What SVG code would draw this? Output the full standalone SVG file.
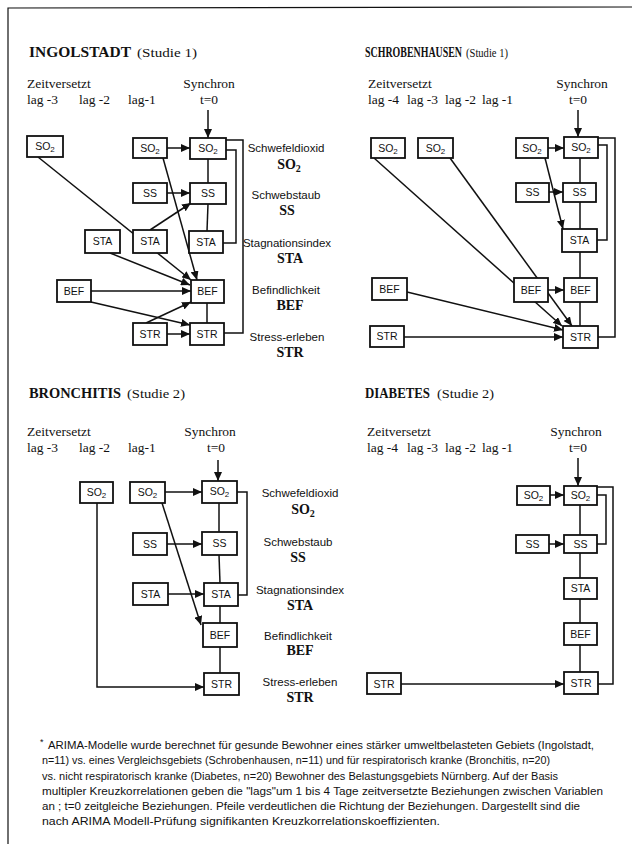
<svg xmlns="http://www.w3.org/2000/svg" width="632" height="844" viewBox="0 0 632 844">
<defs>
<marker id="ah" markerUnits="userSpaceOnUse" markerWidth="9" markerHeight="8" refX="9" refY="4" orient="auto">
<path d="M0,0 L9,4 L0,8 z" fill="#111"/>
</marker>
<style>
.bx{fill:#fff;stroke:#111;stroke-width:1.8}
.bl{font-family:"Liberation Sans",Arial,sans-serif;font-size:10.5px;text-anchor:middle;fill:#111}
.sub{font-size:8px}
.ln{stroke:#111;stroke-width:1.5;fill:none}
.ar{stroke:#111;stroke-width:1.5;fill:none;marker-end:url(#ah)}
.tt{font-family:"Liberation Serif","Times New Roman",serif;font-size:15px;font-weight:bold;fill:#111}
.st{font-family:"Liberation Serif","Times New Roman",serif;font-size:13px;fill:#111}
.hd{font-family:"Liberation Serif","Times New Roman",serif;font-size:13.5px;fill:#111}
.hc{font-family:"Liberation Serif","Times New Roman",serif;font-size:13.5px;fill:#111;text-anchor:middle}
.rl{font-family:"Liberation Sans",Arial,sans-serif;font-size:11.5px;fill:#111;text-anchor:middle}
.rb{font-family:"Liberation Serif","Times New Roman",serif;font-size:14px;font-weight:bold;fill:#111;text-anchor:middle}
.rbs{font-size:10px}
.fn{font-family:"Liberation Sans",Arial,sans-serif;font-size:10px;fill:#111}
</style>
</defs>
<rect width="632" height="844" fill="#fff"/>
<polyline class="ln" points="632,7 8,8 8,844" style="stroke-width:1.2"/>

<!-- ===== INGOLSTADT ===== -->
<g id="ingolstadt-header">
<text class="tt" x="29" y="57" textLength="102" lengthAdjust="spacingAndGlyphs">INGOLSTADT</text>
<text class="st" x="137" y="57" textLength="60" lengthAdjust="spacingAndGlyphs">(Studie 1)</text>
<text class="hd" x="27" y="88">Zeitversetzt</text>
<text class="hd" x="27" y="104">lag -3</text>
<text class="hd" x="79" y="104">lag -2</text>
<text class="hd" x="128" y="104">lag-1</text>
<text class="hc" x="209" y="88">Synchron</text>
<text class="hc" x="209" y="104">t=0</text>
</g>
<g id="ingolstadt-labels">
<text class="rl" x="286" y="152">Schwefeldioxid</text>
<text class="rb" x="289" y="169">SO<tspan class="rbs" dy="3">2</tspan></text>
<text class="rl" x="286" y="199">Schwebstaub</text>
<text class="rb" x="287" y="215">SS</text>
<text class="rl" x="287" y="247">Stagnationsindex</text>
<text class="rb" x="290" y="263">STA</text>
<text class="rl" x="286" y="294">Befindlichkeit</text>
<text class="rb" x="290" y="310">BEF</text>
<text class="rl" x="287" y="341">Stress-erleben</text>
<text class="rb" x="290" y="357">STR</text>
</g>
<g id="ingolstadt-connectors">
<line class="ar" x1="208" y1="110" x2="208" y2="138"/>
<line class="ar" x1="167" y1="148" x2="190" y2="148"/>
<line class="ar" x1="167" y1="193" x2="190" y2="193"/>
<line class="ln" x1="208" y1="159" x2="208" y2="183"/>
<line class="ln" x1="208" y1="204" x2="207" y2="231"/>
<line class="ln" x1="207" y1="303" x2="207" y2="323"/>
<polyline class="ln" points="226,150 236,150 236,243 223,243"/>
<polyline class="ln" points="226,140 243,140 243,333 224,333"/>
<line class="ar" x1="38" y1="157" x2="191" y2="280"/>
<line class="ar" x1="110" y1="253" x2="190" y2="285"/>
<line class="ar" x1="91" y1="291" x2="191" y2="291"/>
<line class="ar" x1="91" y1="302" x2="190" y2="325"/>
<line class="ar" x1="167" y1="334" x2="190" y2="334"/>
<line class="ar" x1="146" y1="323" x2="191" y2="302"/>
<line class="ar" x1="150" y1="230" x2="191" y2="203"/>
<line class="ar" x1="163" y1="158" x2="197" y2="280"/>
</g>
<g id="I_SO2_l3"><rect class="bx" x="27" y="136" width="36" height="21"/><text class="bl" x="45" y="150">SO<tspan class="sub" dy="2">2</tspan></text></g>
<g id="I_SO2_l1"><rect class="bx" x="133" y="138" width="34" height="20"/><text class="bl" x="150" y="152">SO<tspan class="sub" dy="2">2</tspan></text></g>
<g id="I_SO2_t0"><rect class="bx" x="190" y="138" width="36" height="21"/><text class="bl" x="208" y="152">SO<tspan class="sub" dy="2">2</tspan></text></g>
<g id="I_SS_l1"><rect class="bx" x="133" y="183" width="34" height="20"/><text class="bl" x="150" y="197">SS</text></g>
<g id="I_SS_t0"><rect class="bx" x="190" y="183" width="36" height="21"/><text class="bl" x="208" y="197">SS</text></g>
<g id="I_STA_l2"><rect class="bx" x="85" y="230" width="35" height="23"/><text class="bl" x="102.5" y="245">STA</text></g>
<g id="I_STA_l1"><rect class="bx" x="133" y="230" width="34" height="23"/><text class="bl" x="150" y="245">STA</text></g>
<g id="I_STA_t0"><rect class="bx" x="189" y="231" width="34" height="22"/><text class="bl" x="206" y="246">STA</text></g>
<g id="I_BEF_l3"><rect class="bx" x="57" y="280" width="34" height="22"/><text class="bl" x="74" y="295">BEF</text></g>
<g id="I_BEF_t0"><rect class="bx" x="191" y="280" width="33" height="23"/><text class="bl" x="207.5" y="295">BEF</text></g>
<g id="I_STR_l1"><rect class="bx" x="133" y="323" width="34" height="22"/><text class="bl" x="150" y="338">STR</text></g>
<g id="I_STR_t0"><rect class="bx" x="190" y="323" width="34" height="22"/><text class="bl" x="207" y="338">STR</text></g>

<!-- ===== SCHROBENHAUSEN ===== -->
<g id="schrobenhausen-header">
<text class="tt" x="365" y="57" style="font-size:14px" textLength="97" lengthAdjust="spacingAndGlyphs">SCHROBENHAUSEN</text>
<text class="st" x="466" y="57" style="font-size:12px" textLength="42" lengthAdjust="spacingAndGlyphs">(Studie 1)</text>
<text class="hd" x="368" y="88">Zeitversetzt</text>
<text class="hd" x="368" y="104">lag -4</text>
<text class="hd" x="407" y="104">lag -3</text>
<text class="hd" x="445" y="104">lag -2</text>
<text class="hd" x="482" y="104">lag -1</text>
<text class="hc" x="582" y="88">Synchron</text>
<text class="hc" x="578" y="104">t=0</text>
</g>
<g id="schrobenhausen-connectors">
<line class="ar" x1="578" y1="110" x2="578" y2="137"/>
<line class="ar" x1="548" y1="148" x2="564" y2="148"/>
<line class="ar" x1="549" y1="192" x2="563" y2="192"/>
<line class="ln" x1="580" y1="158" x2="580" y2="183"/>
<line class="ln" x1="580" y1="202" x2="580" y2="229"/>
<line class="ln" x1="580" y1="252" x2="580" y2="278"/>
<line class="ln" x1="580" y1="302" x2="580" y2="326"/>
<polyline class="ln" points="598,145 607,145 607,240 597,240"/>
<polyline class="ln" points="598,138 615,138 615,337 598,337"/>
<line class="ar" x1="374" y1="158" x2="562" y2="326"/>
<line class="ar" x1="450" y1="158" x2="572" y2="326"/>
<line class="ar" x1="548" y1="290" x2="564" y2="290"/>
<line class="ar" x1="545" y1="158" x2="563" y2="229"/>
<line class="ar" x1="407" y1="292" x2="563" y2="330"/>
<line class="ar" x1="404" y1="337" x2="563" y2="337"/>
</g>
<g id="S_SO2_l4"><rect class="bx" x="371" y="138" width="34" height="20"/><text class="bl" x="388" y="152">SO<tspan class="sub" dy="2">2</tspan></text></g>
<g id="S_SO2_l3"><rect class="bx" x="418" y="138" width="35" height="20"/><text class="bl" x="435.5" y="152">SO<tspan class="sub" dy="2">2</tspan></text></g>
<g id="S_SO2_l1"><rect class="bx" x="516" y="138" width="32" height="20"/><text class="bl" x="532" y="152">SO<tspan class="sub" dy="2">2</tspan></text></g>
<g id="S_SO2_t0"><rect class="bx" x="564" y="137" width="34" height="21"/><text class="bl" x="581" y="151">SO<tspan class="sub" dy="2">2</tspan></text></g>
<g id="S_SS_l1"><rect class="bx" x="516" y="183" width="33" height="19"/><text class="bl" x="532.5" y="196">SS</text></g>
<g id="S_SS_t0"><rect class="bx" x="563" y="183" width="33" height="19"/><text class="bl" x="579.5" y="196">SS</text></g>
<g id="S_STA_t0"><rect class="bx" x="562" y="229" width="35" height="23"/><text class="bl" x="579.5" y="244">STA</text></g>
<g id="S_BEF_l4"><rect class="bx" x="372" y="278" width="35" height="22"/><text class="bl" x="389.5" y="293">BEF</text></g>
<g id="S_BEF_l1"><rect class="bx" x="514" y="278" width="34" height="24"/><text class="bl" x="531" y="294">BEF</text></g>
<g id="S_BEF_t0"><rect class="bx" x="564" y="278" width="33" height="24"/><text class="bl" x="580.5" y="294">BEF</text></g>
<g id="S_STR_l4"><rect class="bx" x="370" y="326" width="34" height="21"/><text class="bl" x="387" y="340">STR</text></g>
<g id="S_STR_t0"><rect class="bx" x="563" y="326" width="35" height="22"/><text class="bl" x="580.5" y="341">STR</text></g>

<!-- ===== BRONCHITIS ===== -->
<g id="bronchitis-header">
<text class="tt" x="29" y="398" textLength="92" lengthAdjust="spacingAndGlyphs">BRONCHITIS</text>
<text class="st" x="127" y="398" textLength="58" lengthAdjust="spacingAndGlyphs">(Studie 2)</text>
<text class="hd" x="27" y="436">Zeitversetzt</text>
<text class="hd" x="27" y="452">lag -3</text>
<text class="hd" x="79" y="452">lag -2</text>
<text class="hd" x="128" y="452">lag-1</text>
<text class="hc" x="210" y="436">Synchron</text>
<text class="hc" x="216" y="452">t=0</text>
</g>
<g id="bronchitis-labels">
<text class="rl" x="300" y="497">Schwefeldioxid</text>
<text class="rb" x="303" y="514">SO<tspan class="rbs" dy="3">2</tspan></text>
<text class="rl" x="298" y="546">Schwebstaub</text>
<text class="rb" x="298" y="562">SS</text>
<text class="rl" x="300" y="594">Stagnationsindex</text>
<text class="rb" x="300" y="610">STA</text>
<text class="rl" x="298" y="640">Befindlichkeit</text>
<text class="rb" x="300" y="655">BEF</text>
<text class="rl" x="300" y="686">Stress-erleben</text>
<text class="rb" x="300" y="702">STR</text>
</g>
<g id="bronchitis-connectors">
<line class="ar" x1="218" y1="460" x2="218" y2="481"/>
<line class="ar" x1="165" y1="492" x2="202" y2="492"/>
<line class="ar" x1="167" y1="544" x2="202" y2="544"/>
<line class="ar" x1="168" y1="594" x2="204" y2="594"/>
<line class="ln" x1="219" y1="503" x2="219" y2="532"/>
<line class="ln" x1="219" y1="555" x2="220" y2="583"/>
<line class="ln" x1="220" y1="606" x2="220" y2="623"/>
<line class="ln" x1="220" y1="647" x2="220" y2="673"/>
<polyline class="ln" points="237,492 247,492 247,595 238,595"/>
<line class="ar" x1="162" y1="503" x2="201" y2="625"/>
<polyline class="ar" points="97,503 97,687 204,687"/>
</g>
<g id="B_SO2_l3"><rect class="bx" x="80" y="482" width="33" height="21"/><text class="bl" x="96.5" y="496">SO<tspan class="sub" dy="2">2</tspan></text></g>
<g id="B_SO2_l1"><rect class="bx" x="130" y="482" width="35" height="21"/><text class="bl" x="147.5" y="496">SO<tspan class="sub" dy="2">2</tspan></text></g>
<g id="B_SO2_t0"><rect class="bx" x="202" y="481" width="35" height="22"/><text class="bl" x="219.5" y="495">SO<tspan class="sub" dy="2">2</tspan></text></g>
<g id="B_SS_l1"><rect class="bx" x="133" y="533" width="34" height="22"/><text class="bl" x="150" y="548">SS</text></g>
<g id="B_SS_t0"><rect class="bx" x="202" y="532" width="35" height="23"/><text class="bl" x="219.5" y="547">SS</text></g>
<g id="B_STA_l1"><rect class="bx" x="133" y="583" width="35" height="22"/><text class="bl" x="150.5" y="598">STA</text></g>
<g id="B_STA_t0"><rect class="bx" x="204" y="583" width="34" height="23"/><text class="bl" x="221" y="598">STA</text></g>
<g id="B_BEF_t0"><rect class="bx" x="203" y="623" width="34" height="24"/><text class="bl" x="220" y="639">BEF</text></g>
<g id="B_STR_t0"><rect class="bx" x="204" y="673" width="35" height="22"/><text class="bl" x="221.5" y="688">STR</text></g>

<!-- ===== DIABETES ===== -->
<g id="diabetes-header">
<text class="tt" x="365" y="398" textLength="65" lengthAdjust="spacingAndGlyphs">DIABETES</text>
<text class="st" x="437" y="398" textLength="57" lengthAdjust="spacingAndGlyphs">(Studie 2)</text>
<text class="hd" x="367" y="436">Zeitversetzt</text>
<text class="hd" x="367" y="452">lag -4</text>
<text class="hd" x="407" y="452">lag -3</text>
<text class="hd" x="445" y="452">lag -2</text>
<text class="hd" x="482" y="452">lag -1</text>
<text class="hc" x="576" y="436">Synchron</text>
<text class="hc" x="578" y="452">t=0</text>
</g>
<g id="diabetes-connectors">
<line class="ar" x1="578" y1="458" x2="578" y2="486"/>
<line class="ar" x1="550" y1="495" x2="564" y2="495"/>
<line class="ar" x1="549" y1="544" x2="564" y2="544"/>
<line class="ln" x1="580" y1="505" x2="580" y2="535"/>
<line class="ln" x1="580" y1="553" x2="580" y2="578"/>
<line class="ln" x1="580" y1="599" x2="580" y2="623"/>
<line class="ln" x1="580" y1="645" x2="580" y2="672"/>
<polyline class="ln" points="597,495 606,495 606,544 597,544"/>
<polyline class="ln" points="597,487 613,487 613,684 598,684"/>
<line class="ar" x1="401" y1="684" x2="564" y2="684"/>
</g>
<g id="D_SO2_l1"><rect class="bx" x="517" y="486" width="33" height="19"/><text class="bl" x="533.5" y="499">SO<tspan class="sub" dy="2">2</tspan></text></g>
<g id="D_SO2_t0"><rect class="bx" x="564" y="486" width="33" height="19"/><text class="bl" x="580.5" y="499">SO<tspan class="sub" dy="2">2</tspan></text></g>
<g id="D_SS_l1"><rect class="bx" x="516" y="535" width="33" height="18"/><text class="bl" x="532.5" y="548">SS</text></g>
<g id="D_SS_t0"><rect class="bx" x="564" y="535" width="33" height="18"/><text class="bl" x="580.5" y="548">SS</text></g>
<g id="D_STA_t0"><rect class="bx" x="564" y="578" width="33" height="21"/><text class="bl" x="580.5" y="592">STA</text></g>
<g id="D_BEF_t0"><rect class="bx" x="564" y="623" width="33" height="22"/><text class="bl" x="580.5" y="638">BEF</text></g>
<g id="D_STR_t0"><rect class="bx" x="564" y="672" width="34" height="22"/><text class="bl" x="581" y="687">STR</text></g>
<g id="D_STR_l4"><rect class="bx" x="367" y="673" width="34" height="21"/><text class="bl" x="384" y="688">STR</text></g>

<!-- ===== Footnote ===== -->
<g id="footnote">
<text class="fn" x="40" y="745" style="font-size:9px">*</text>
<text class="fn" x="48" y="749" textLength="546" lengthAdjust="spacingAndGlyphs">ARIMA-Modelle wurde berechnet für  gesunde Bewohner eines stärker umweltbelasteten Gebiets (Ingolstadt,</text>
<text class="fn" x="42" y="764" textLength="508" lengthAdjust="spacingAndGlyphs">n=11) vs. eines Vergleichsgebiets (Schrobenhausen, n=11) und für respiratorisch kranke (Bronchitis, n=20)</text>
<text class="fn" x="42" y="780" textLength="516" lengthAdjust="spacingAndGlyphs">vs.  nicht respiratorisch kranke (Diabetes, n=20) Bewohner des Belastungsgebiets Nürnberg. Auf der Basis</text>
<text class="fn" x="42" y="795" textLength="561" lengthAdjust="spacingAndGlyphs">multipler Kreuzkorrelationen  geben  die "lags"um 1 bis 4 Tage zeitversetzte Beziehungen zwischen Variablen</text>
<text class="fn" x="42" y="810" textLength="538" lengthAdjust="spacingAndGlyphs">an ;  t=0 zeitgleiche Beziehungen.  Pfeile verdeutlichen die Richtung der Beziehungen. Dargestellt sind die</text>
<text class="fn" x="42" y="825" textLength="398" lengthAdjust="spacingAndGlyphs">nach ARIMA Modell-Prüfung signifikanten Kreuzkorrelationskoeffizienten.</text>
</g>
</svg>
